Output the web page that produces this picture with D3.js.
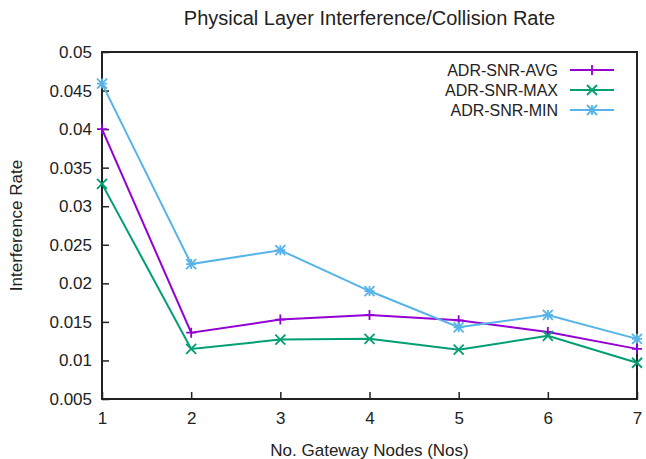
<!DOCTYPE html>
<html>
<head>
<meta charset="utf-8">
<script src="https://cdn.jsdelivr.net/npm/d3@7"></script>
<style>
  body { margin: 0; background: #fff; }
  text { font-family: "Liberation Sans", Arial, sans-serif; fill: #222; }
</style>
</head>
<body>
<script>
// data
var nodes = [1, 2, 3, 4, 5, 6, 7];
var avgRate = [0.0400, 0.0136, 0.0153, 0.0159, 0.0152, 0.0137, 0.0115];
var maxRate = [0.0329, 0.0115, 0.0127, 0.0128, 0.0114, 0.0132, 0.0097];
var minRate = [0.0459, 0.0225, 0.0243, 0.0190, 0.0143, 0.0159, 0.0128];
var seriesNames = ["ADR-SNR-AVG", "ADR-SNR-MAX", "ADR-SNR-MIN"];
var yTicks = [0.005, 0.01, 0.015, 0.02, 0.025, 0.03, 0.035, 0.04, 0.045, 0.05];

var series = [
  { name: seriesNames[0], values: avgRate, color: "#9400d3", mark: "plus" },
  { name: seriesNames[1], values: maxRate, color: "#009e73", mark: "cross" },
  { name: seriesNames[2], values: minRate, color: "#56b4e9", mark: "star" }
];

var W = 646, H = 459;
var m = { left: 102, right: 637, top: 52, bottom: 399 };

var svg = d3.select("body").append("svg")
  .attr("width", W)
  .attr("height", H);

var x = d3.scaleLinear().domain([1, 7]).range([m.left, m.right]);
var y = d3.scaleLinear().domain([0.005, 0.05]).range([m.bottom, m.top]);

// ticks (inward, left and bottom only)
var xAxis = d3.axisBottom(x).tickValues(nodes).tickFormat(d3.format("d"))
  .tickSizeInner(-7).tickSizeOuter(0).tickPadding(13);
var yAxis = d3.axisLeft(y).tickValues(yTicks).tickFormat(function (d) { return String(+d.toFixed(3)); })
  .tickSizeInner(-7).tickSizeOuter(0).tickPadding(10);

var gx = svg.append("g").attr("transform", "translate(0," + m.bottom + ")").call(xAxis);
var gy = svg.append("g").attr("transform", "translate(" + m.left + ",0)").call(yAxis);
[gx, gy].forEach(function (g) {
  g.select(".domain").remove();
  g.selectAll(".tick line").attr("stroke", "#222").attr("stroke-width", 1.5);
  g.selectAll(".tick text").style("font-size", "17px").attr("fill", "#222");
});

// border
svg.append("rect")
  .attr("x", m.left).attr("y", m.top)
  .attr("width", m.right - m.left).attr("height", m.bottom - m.top)
  .attr("fill", "none").attr("stroke", "#222").attr("stroke-width", 2);

// point symbols
function drawMark(g, kind, cx, cy, color) {
  var s = 5;
  var p = d3.path();
  if (kind === "plus" || kind === "star") {
    p.moveTo(cx - s, cy); p.lineTo(cx + s, cy);
    p.moveTo(cx, cy - s); p.lineTo(cx, cy + s);
  }
  if (kind === "cross" || kind === "star") {
    p.moveTo(cx - s, cy - s); p.lineTo(cx + s, cy + s);
    p.moveTo(cx - s, cy + s); p.lineTo(cx + s, cy - s);
  }
  g.append("path").attr("d", p.toString())
    .attr("stroke", color).attr("stroke-width", 1.8).attr("fill", "none");
}

var line = d3.line()
  .x(function (d, i) { return x(nodes[i]); })
  .y(function (d) { return y(d); });

series.forEach(function (s) {
  var g = svg.append("g");
  g.append("path")
    .datum(s.values)
    .attr("d", line)
    .attr("fill", "none")
    .attr("stroke", s.color)
    .attr("stroke-width", 2);
  s.values.forEach(function (v, i) {
    drawMark(g, s.mark, x(nodes[i]), y(v), s.color);
  });
});

// legend
series.forEach(function (s, i) {
  var ly = 70 + i * 20;
  svg.append("text")
    .attr("x", 558).attr("y", ly).attr("dy", "0.35em")
    .attr("text-anchor", "end")
    .style("font-size", "16px")
    .text(s.name);
  svg.append("line")
    .attr("x1", 570).attr("x2", 614).attr("y1", ly).attr("y2", ly)
    .attr("stroke", s.color).attr("stroke-width", 2);
  drawMark(svg, s.mark, 592, ly, s.color);
});

// titles
svg.append("text")
  .attr("x", (m.left + m.right) / 2).attr("y", 25)
  .attr("text-anchor", "middle")
  .style("font-size", "20px")
  .text("Physical Layer Interference/Collision Rate");

svg.append("text")
  .attr("x", (m.left + m.right) / 2).attr("y", 456)
  .attr("text-anchor", "middle")
  .style("font-size", "17px")
  .text("No. Gateway Nodes (Nos)");

svg.append("text")
  .attr("transform", "translate(22," + ((m.top + m.bottom) / 2) + ") rotate(-90)")
  .attr("text-anchor", "middle")
  .style("font-size", "17px")
  .text("Interference Rate");
</script>
</body>
</html>
